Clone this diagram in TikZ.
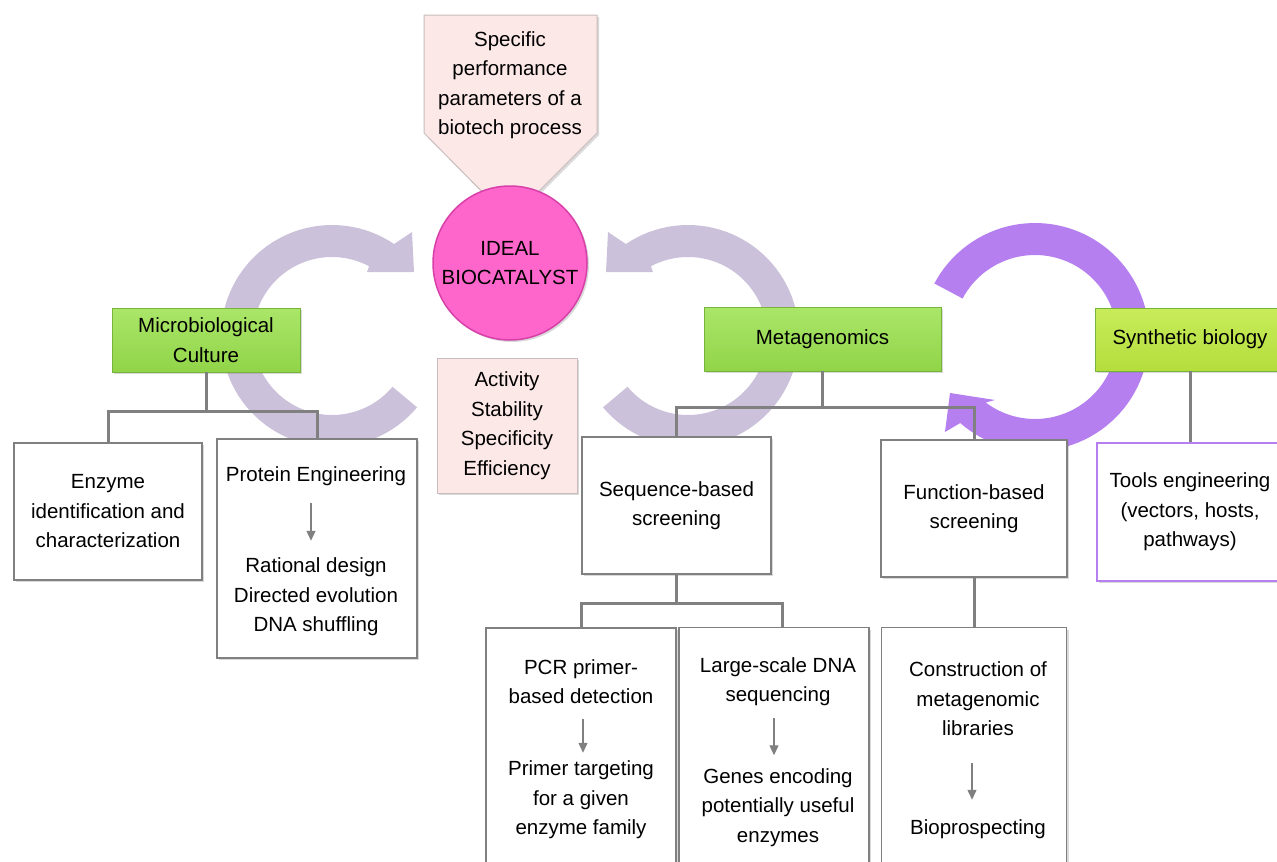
\documentclass[tikz,border=0pt]{standalone}
\usepackage{fontspec}
\setmainfont{Liberation Sans}
\usetikzlibrary{shadows,arrows.meta}
\definecolor{lav}{RGB}{204,193,218}
\definecolor{purp}{RGB}{181,127,240}
\definecolor{mag}{RGB}{255,102,204}
\definecolor{magd}{RGB}{214,64,168}
\definecolor{pinkf}{RGB}{253,232,232}
\definecolor{pinkd}{RGB}{200,188,188}
\definecolor{greenT}{RGB}{170,230,105}
\definecolor{greenB}{RGB}{145,212,72}
\definecolor{greenD}{RGB}{120,180,60}
\definecolor{limeT}{RGB}{200,236,90}
\definecolor{limeB}{RGB}{180,222,60}
\definecolor{connc}{RGB}{128,128,128}
\begin{document}
\begin{tikzpicture}[x=1pt,y=-1pt,
  font=\fontsize{20.5}{29.5}\selectfont,
  shad/.style={drop shadow={shadow xshift=2pt,shadow yshift=-2pt,opacity=0.3}},
  wbox/.style={draw=connc, line width=1.2pt, fill=white, shad, align=center, inner sep=0pt},
  gbox/.style={draw=greenD, line width=0.8pt, top color=greenT, bottom color=greenB, shad, align=center, inner sep=0pt},
  lbox/.style={draw=greenD, line width=0.8pt, top color=limeT, bottom color=limeB, shad, align=center, inner sep=0pt},
  pbox/.style={draw=pinkd, line width=1pt, fill=pinkf, shad, align=center, inner sep=0pt},
  txt/.style={align=center, inner sep=0pt},
  tree/.style={draw=connc, line width=3pt},
  smallarr/.style={draw=connc, line width=1.4pt, -{Triangle[length=10pt,width=9pt]}}
]
\useasboundingbox (0,0) rectangle (1277,862);
\clip (0,0) rectangle (1277,862);

% circular arrows
\fill[lav] plot[domain=40:304,samples=80] ({332+111*cos(\x)},{336+111*sin(\x)})
  -- (412,232) -- (414,272) -- (367,272)
  -- plot[domain=298:40,samples=80] ({332+79*cos(\x)},{336+79*sin(\x)}) -- cycle;
\fill[lav] plot[domain=140:-124,samples=80] ({688+111*cos(\x)},{336+111*sin(\x)})
  -- (608,232) -- (606,272) -- (653,272)
  -- plot[domain=-118:140,samples=80] ({688+79*cos(\x)},{336+79*sin(\x)}) -- cycle;
\fill[purp] plot[domain=208:491,samples=90] ({1035+114*cos(\x)},{337+114*sin(\x)})
  -- (945,432) -- (950,393) -- (995,400)
  -- plot[domain=487:208,samples=90] ({1035+82*cos(\x)},{337+82*sin(\x)}) -- cycle;

% top pentagon arrow
\path[draw=pinkd, line width=1pt, fill=pinkf, shad] (424,15) -- (597,15) -- (597,133) -- (510,220) -- (424,133) -- cycle;
\node[txt] (spec) at (510,85) {Specific\\performance\\parameters of a\\biotech process};

% central circle
\node[circle, fill=mag, draw=magd, line width=1.5pt, minimum size=154pt, inner sep=0pt, align=center, shad] (ideal) at (510,263) {IDEAL\\BIOCATALYST};

% green boxes
\node[gbox, minimum width=188pt, minimum height=64pt] (micro) at (206,340) {Microbiological\\Culture};
\node[gbox, minimum width=237pt, minimum height=64pt] (meta) at (822.5,339) {Metagenomics};
\node[lbox, minimum width=190pt, minimum height=63pt] (syn) at (1190,339.5) {Synthetic biology};

% pink property box
\node[pbox, minimum width=140pt, minimum height=135pt] (prop) at (507,425.5) {Activity\\Stability\\Specificity\\Efficiency};

% white boxes
\node[wbox, minimum width=188pt, minimum height=137pt] (enz) at (108,511.5) {Enzyme\\identification and\\characterization};
\node[wbox, minimum width=200pt, minimum height=219pt] (prot) at (317,548.5) {};
\node[txt] (pe1) at (316,476) {Protein Engineering};
\node[txt] (pe2) at (316,597) {Rational design\\Directed evolution\\DNA shuffling};

\node[wbox, minimum width=189pt, minimum height=137pt] (seq) at (676.5,505.5) {Sequence-based\\screening};
\node[wbox, minimum width=186pt, minimum height=137pt] (fun) at (974,508.5) {Function-based\\screening};
\node[wbox, draw=purp, minimum width=186pt, minimum height=138pt] (tools) at (1190,512) {Tools engineering\\(vectors, hosts,\\pathways)};

\node[wbox, minimum width=190pt, minimum height=252pt] (pcr) at (581,754) {};
\node[txt] (pcr1) at (581,681.5) {PCR primer-\\based detection};
\node[txt] (pcr2) at (581,800) {Primer targeting\\for a given\\enzyme family};

\node[wbox, minimum width=190pt, minimum height=252pt] (lsd) at (774,753.5) {};
\node[txt] (lsd1) at (778,681.5) {Large-scale DNA\\sequencing};
\node[txt] (lsd2) at (778,807.5) {Genes encoding\\potentially useful\\enzymes};

\node[wbox, minimum width=185pt, minimum height=252pt] (con) at (974,753.5) {};
\node[txt] (con1) at (978,699) {Construction of\\metagenomic\\libraries};
\node[txt] (con2) at (978,829.5) {Bioprospecting};

% tree connectors
\draw[tree] (micro.south) -- ++(0,39) coordinate (mj);
\draw[tree] (enz.north) |- (mj) -| (prot.north);
\draw[tree] (meta.south) -- ++(0,36) coordinate (gj);
\draw[tree] (seq.north) |- (gj) -| (fun.north);
\draw[tree] (seq.south) -- ++(0,29) coordinate (sj);
\draw[tree] (pcr.north) |- (sj) -| ([xshift=8pt]lsd.north);
\draw[tree] (fun.south) -- (con.north);
\draw[tree] (syn.south) -- (tools.north);

% small arrows inside boxes
\draw[smallarr, shorten <=17pt, shorten >=17pt] ([xshift=-5pt]pe1.south) -- ([xshift=-5pt]pe2.north);
\draw[smallarr, shorten <=15pt, shorten >=8pt] ([xshift=2pt]pcr1.south) -- ([xshift=2pt]pcr2.north);
\draw[smallarr, shorten <=12pt, shorten >=13pt] ([xshift=-4pt]lsd1.south) -- ([xshift=-4pt]lsd2.north);
\draw[smallarr, shorten <=27pt, shorten >=20pt] ([xshift=-6pt]con1.south) -- ([xshift=-6pt]con2.north);
\end{tikzpicture}
\end{document}
